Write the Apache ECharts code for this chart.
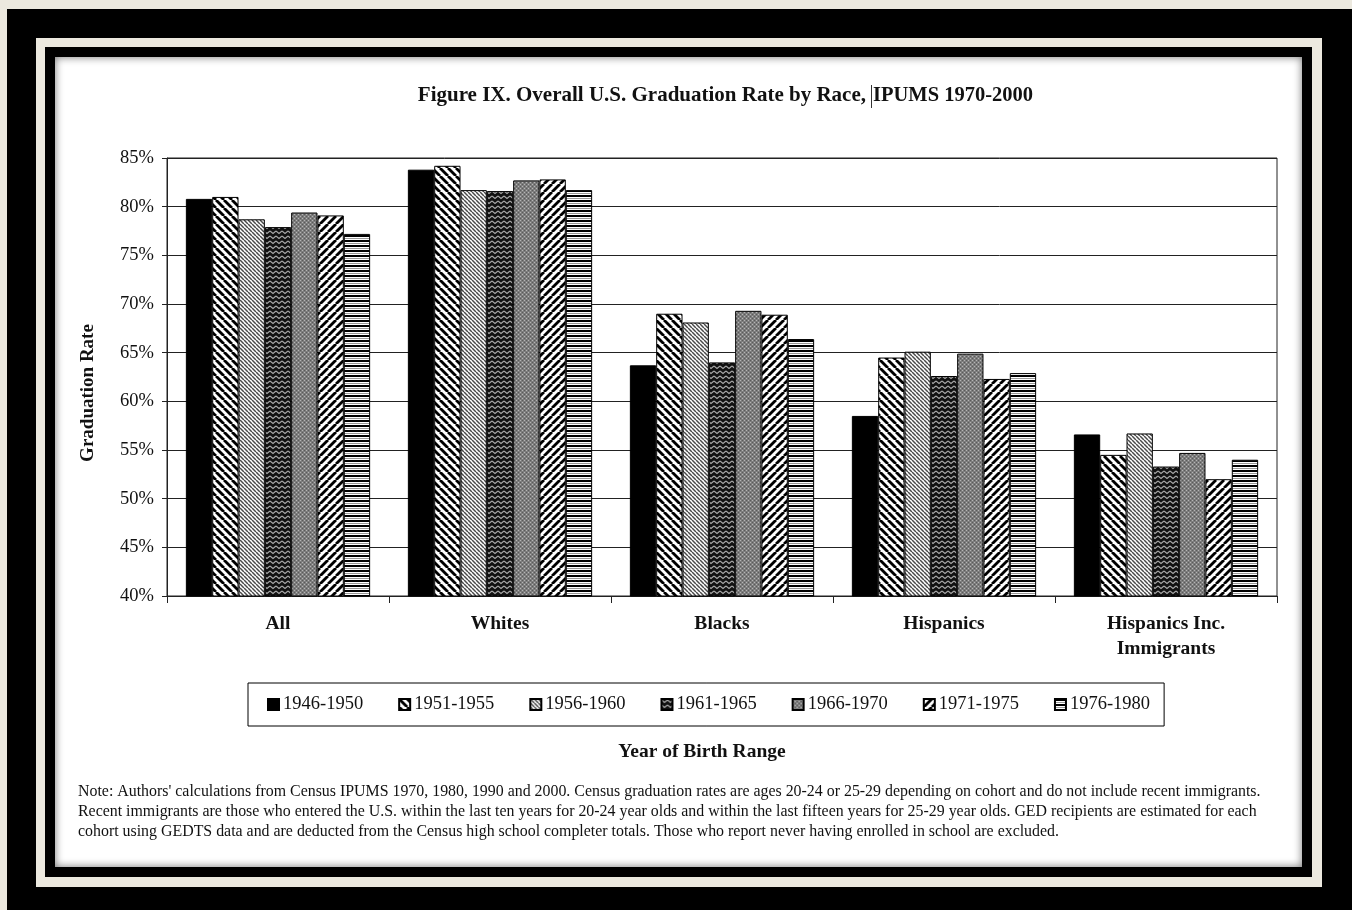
<!DOCTYPE html>
<html><head><meta charset="utf-8">
<script src="https://cdn.jsdelivr.net/npm/echarts@6/dist/echarts.min.js"></script>
<style>
html,body{margin:0;padding:0;width:1352px;height:910px;overflow:hidden;background:#ECE9DF;}
.f{position:absolute;}
#o{left:7px;top:9px;width:1345px;height:901px;background:#000;}
#c{left:36px;top:38px;width:1286px;height:849px;background:#ECE9DF;}
#i{left:45px;top:47px;width:1267px;height:830px;background:#000;}
#w{left:55px;top:57px;width:1247px;height:810px;background:#fff;box-shadow:inset 0 0 9px rgba(0,0,0,0.55);}
#chart{left:0;top:0;width:1352px;height:910px;}
</style></head>
<body>
<div class="f" id="o"></div><div class="f" id="c"></div><div class="f" id="i"></div><div class="f" id="w"></div>
<div class="f" id="chart"></div>
<script>
const categories = ['All', 'Whites', 'Blacks', 'Hispanics', 'Hispanics Inc.\nImmigrants'];
const cohorts = ['1946-1950', '1951-1955', '1956-1960', '1961-1965', '1966-1970', '1971-1975', '1976-1980'];
const s1946 = [80.8, 83.8, 63.7, 58.5, 56.6];
const s1951 = [81.0, 84.2, 69.0, 64.5, 54.5];
const s1956 = [78.7, 81.7, 68.1, 65.1, 56.7];
const s1961 = [77.9, 81.6, 64.0, 62.6, 53.3];
const s1966 = [79.4, 82.7, 69.3, 64.9, 54.7];
const s1971 = [79.1, 82.8, 68.9, 62.3, 52.0];
const s1976 = [77.2, 81.7, 66.4, 62.9, 54.0];
const yMin = 40, yMax = 85, yStep = 5;
const titleLeft = 'Figure IX. Overall U.S. Graduation Rate by Race,';
const titleRight = 'IPUMS 1970-2000';
const yName = 'Graduation Rate';
const xName = 'Year of Birth Range';
const noteLines = [
  "Note: Authors' calculations from Census IPUMS 1970, 1980, 1990 and 2000. Census graduation rates are ages 20-24 or 25-29 depending on cohort and do not include recent immigrants.",
  "Recent immigrants are those who entered the U.S. within the last ten years for 20-24 year olds and within the last fifteen years for 25-29 year olds. GED recipients are estimated for each",
  "cohort using GEDTS data and are deducted from the Census high school completer totals. Those who report never having enrolled in school are excluded."
];

function tile(w, h, draw) {
  const c = document.createElement('canvas');
  c.width = w; c.height = h;
  const g = c.getContext('2d');
  draw(g, w, h);
  return { image: c, repeat: 'repeat' };
}
const FONT = '"Liberation Serif", "DejaVu Serif", serif';
const patterns = [
  '#000',
  tile(8, 8, (g) => { g.fillStyle = '#fff'; g.fillRect(0,0,8,8); g.strokeStyle = '#000'; g.lineWidth = 2.8;
    for (const k of [-8, 0, 8]) { g.beginPath(); g.moveTo(k, 0); g.lineTo(k + 8, 8); g.stroke(); } }),
  tile(4, 4, (g) => { g.fillStyle = '#fff'; g.fillRect(0,0,4,4); g.strokeStyle = '#4a4a4a'; g.lineWidth = 1.5;
    for (const k of [-4, 0, 4]) { g.beginPath(); g.moveTo(k, 0); g.lineTo(k + 4, 4); g.stroke(); } }),
  tile(6, 5, (g) => { g.fillStyle = '#111'; g.fillRect(0,0,6,5); g.strokeStyle = '#aaa'; g.lineWidth = 1.1;
    g.beginPath(); g.moveTo(0, 1); g.lineTo(3, 3.5); g.lineTo(6, 1); g.stroke(); }),
  tile(4, 4, (g) => { g.fillStyle = '#7d7d7d'; g.fillRect(0,0,4,4); g.fillStyle = '#b5b5b5';
    g.fillRect(0,0,1,1); g.fillRect(2,2,1,1); g.fillStyle = '#5a5a5a'; g.fillRect(2,0,1,1); g.fillRect(0,2,1,1); }),
  tile(8, 8, (g) => { g.fillStyle = '#fff'; g.fillRect(0,0,8,8); g.strokeStyle = '#000'; g.lineWidth = 2.8;
    for (const k of [-8, 0, 8]) { g.beginPath(); g.moveTo(k, 8); g.lineTo(k + 8, 0); g.stroke(); } }),
  tile(4, 5, (g) => { g.fillStyle = '#fff'; g.fillRect(0,0,4,5); g.fillStyle = '#000'; g.fillRect(0,0,4,2);
    g.fillStyle = '#999'; g.fillRect(0,3,4,1); })
];
const seriesData = [s1946, s1951, s1956, s1961, s1966, s1971, s1976];

const chart = echarts.init(document.getElementById('chart'), null, { renderer: 'canvas' });
chart.setOption({
  backgroundColor: 'transparent',
  animation: false,
  textStyle: { fontFamily: FONT, color: '#111' },
  grid: { left: 167, top: 158, width: 1110, height: 438, show: true, borderColor: '#222', borderWidth: 1, backgroundColor: 'transparent' },
  legend: {
    data: cohorts, left: 248, top: 683, orient: 'horizontal',
    padding: [12, 14, 12, 19], itemGap: 35, itemWidth: 11, itemHeight: 11, icon: 'rect',
    borderColor: '#000', borderWidth: 1, backgroundColor: '#fff',
    textStyle: { fontFamily: FONT, fontSize: 18.5, color: '#111', padding: [0, 0, 0, -1] }
  },
  xAxis: {
    type: 'category', data: categories,
    axisLine: { lineStyle: { color: '#222' } },
    axisTick: { show: true, length: 7, lineStyle: { color: '#222' } },
    axisLabel: { fontFamily: FONT, fontSize: 19.5, fontWeight: 'bold', color: '#111', margin: 15, lineHeight: 25 }
  },
  yAxis: {
    type: 'value', min: yMin, max: yMax, interval: yStep,
    axisLine: { show: true, lineStyle: { color: '#222' } },
    axisTick: { show: true, length: 5, lineStyle: { color: '#222' } },
    splitLine: { show: true, lineStyle: { color: '#222', width: 1 } },
    axisLabel: { formatter: '{value}%', fontFamily: FONT, fontSize: 18.5, color: '#111', margin: 13 }
  },
  series: cohorts.map((name, i) => ({
    name, type: 'bar', data: seriesData[i], barGap: '0%', barCategoryGap: '17%',
    itemStyle: { color: patterns[i], borderColor: '#000', borderWidth: 1 }
  })),
  graphic: [
    { type: 'text', x: 866, y: 96, style: { text: titleLeft, font: 'bold 21px ' + FONT, fill: '#111', textAlign: 'right', textVerticalAlign: 'middle' } },
    { type: 'text', x: 873, y: 96, style: { text: titleRight, font: 'bold 20.5px ' + FONT, fill: '#111', textAlign: 'left', textVerticalAlign: 'middle' } },
    { type: 'line', shape: { x1: 871.5, y1: 85, x2: 871.5, y2: 108 }, style: { stroke: '#333', lineWidth: 1 } },
    { type: 'text', x: 88, y: 393, rotation: Math.PI / 2, style: { text: yName, font: 'bold 19px ' + FONT, fill: '#111', textAlign: 'center', textVerticalAlign: 'middle' } },
    { type: 'text', x: 702, y: 752, style: { text: xName, font: 'bold 19.5px ' + FONT, fill: '#111', textAlign: 'center', textVerticalAlign: 'middle' } },
    ...noteLines.map((t, k) => ({ type: 'text', x: 78, y: 792 + 20 * k, style: { text: t, font: '15.9px ' + FONT, fill: '#111', textAlign: 'left', textVerticalAlign: 'middle' } }))
  ]
});
</script>
</body></html>
